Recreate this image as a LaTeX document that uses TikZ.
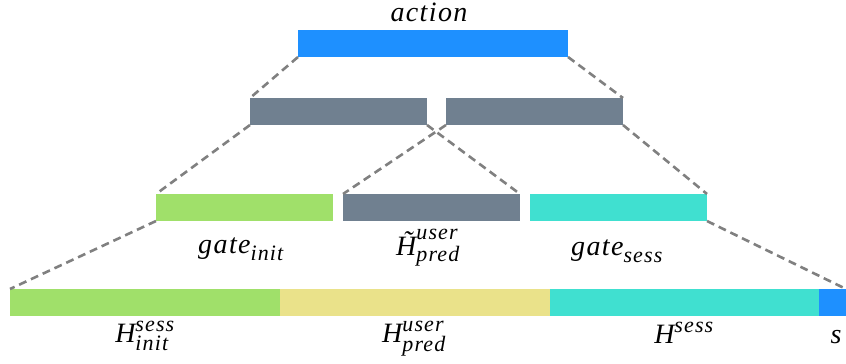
\documentclass[tikz,border=0pt]{standalone}
\usepackage{amsmath}
\usepackage{fontspec}
\setmainfont{Liberation Serif}
\newfontfamily\lblfont[LetterSpace=5]{Liberation Serif}
\DeclareMathSizes{28}{28}{22}{16}
\definecolor{actblue}{HTML}{1E90FF}
\definecolor{slate}{HTML}{708090}
\definecolor{lgreen}{HTML}{A0E06A}
\definecolor{turq}{HTML}{40E0D0}
\definecolor{khakiy}{HTML}{EAE28A}
\newcommand{\vv}[1]{\text{\lblfont\itshape #1}}
\tikzset{
  bar/.style={rectangle, inner sep=0pt, outer sep=0pt, minimum height=27pt, anchor=north west},
  link/.style={draw=gray, line width=2.6pt, dash pattern=on 8pt off 5pt},
  lbl/.style={anchor=base, inner sep=0pt, font=\fontsize{28}{34}\selectfont}
}
\begin{document}
\begin{tikzpicture}[x=1pt, y=-1pt]
\useasboundingbox (0,0) rectangle (846,364);
% top level
\node[bar, fill=actblue, minimum width=270pt] (act) at (298,30) {};
% second level
\node[bar, fill=slate, minimum width=177pt] (l2a) at (250,98) {};
\node[bar, fill=slate, minimum width=177pt] (l2b) at (446,98) {};
% third level
\node[bar, fill=lgreen, minimum width=177pt] (gi) at (156,194) {};
\node[bar, fill=slate, minimum width=177pt] (hp) at (343,194) {};
\node[bar, fill=turq, minimum width=177pt] (gs) at (530,194) {};
% input sequence
\node[bar, fill=lgreen, minimum width=270pt] (hsi) at (10,289) {};
\node[bar, fill=khakiy, minimum width=270pt] (hup) at (280,289) {};
\node[bar, fill=turq, minimum width=269pt] (hs) at (550,289) {};
\node[bar, fill=actblue, minimum width=27pt] (sv) at (819,289) {};
% dashed expansion lines
\draw[link] (act.south west) -- (l2a.north west);
\draw[link] (act.south east) -- (l2b.north east);
\draw[link] (l2a.south west) -- (gi.north west);
\draw[link] (l2a.south east) -- (hp.north east);
\draw[link] (l2b.south west) -- (hp.north west);
\draw[link] (l2b.south east) -- (gs.north east);
\draw[link] (gi.south west) -- (hsi.north west);
\draw[link] (gs.south east) -- (sv.north east);
% labels
\node[lbl] (tact) at (429,21) {$\vv{action}$};
\node[lbl] (tgi) at (241,253) {$\vv{gate}_{\vv{init}}$};
\node[lbl] (thp) at (428,255) {$\vv{\~H}^{\vv{user}}_{\vv{pred}}$};
\node[lbl] (tgs) at (617,255) {$\vv{gate}_{\vv{sess}}$};
\node[lbl] (thsi) at (145,342) {$\vv{H}^{\vv{sess}}_{\vv{init}}$};
\node[lbl] (thup) at (414,342) {$\vv{H}^{\vv{user}}_{\vv{pred}}$};
\node[lbl] (ths) at (684,343) {$\vv{H}^{\vv{sess}}$};
\node[lbl] (tsv) at (836,343) {$\vv{s}$};
\end{tikzpicture}
\end{document}
